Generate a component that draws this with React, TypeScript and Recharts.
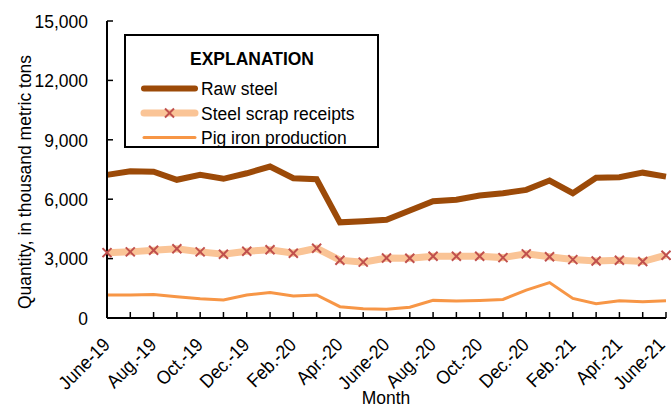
import { LineChart, Line, XAxis, YAxis, Legend } from 'recharts';

const months = [
  'June-19', 'July-19', 'Aug.-19', 'Sept.-19', 'Oct.-19', 'Nov.-19', 'Dec.-19',
  'Jan.-20', 'Feb.-20', 'Mar.-20', 'Apr.-20', 'May-20', 'June-20', 'July-20',
  'Aug.-20', 'Sept.-20', 'Oct.-20', 'Nov.-20', 'Dec.-20', 'Jan.-21', 'Feb.-21',
  'Mar.-21', 'Apr.-21', 'May-21', 'June-21',
];

const rawSteel = [
  7230, 7410, 7390, 6980, 7230, 7030, 7310, 7650, 7060, 7010, 4830, 4890, 4960,
  5430, 5900, 5970, 6190, 6300, 6470, 6940, 6300, 7080, 7110, 7340, 7140,
];

const scrapReceipts = [
  3300, 3340, 3420, 3500, 3340, 3220, 3370, 3450, 3270, 3520, 2920, 2820, 3030,
  3020, 3120, 3120, 3120, 3050, 3240, 3090, 2950, 2880, 2920, 2850, 3170,
];

const pigIron = [
  1160, 1160, 1190, 1070, 970, 910, 1160, 1290, 1110, 1160, 570, 470, 440,
  540, 890, 860, 890, 940, 1410, 1790, 990, 720, 870, 820, 870,
];

const yTicks = [0, 3000, 6000, 9000, 12000, 15000];

const data = months.map((month, i) => ({
  month,
  raw: rawSteel[i],
  scrap: scrapReceipts[i],
  pig: pigIron[i],
}));

const FONT = '"Liberation Sans", Arial, sans-serif';
const FS = 19;
const SX = 0.92; // the original type is slightly condensed

const RAW = '#9C4A08';
const SCRAP = '#FAC496';
const SCRAP_MARK = '#C0504D';
const PIG = '#F79646';

const XMark = (props: any) => {
  const { cx, cy } = props;
  if (cx == null || cy == null) return null;
  const s = 4.5;
  return (
    <g stroke={SCRAP_MARK} strokeWidth={2}>
      <line x1={cx - s} y1={cy - s} x2={cx + s} y2={cy + s} />
      <line x1={cx - s} y1={cy + s} x2={cx + s} y2={cy - s} />
    </g>
  );
};

const NarrowText = ({ x, y, rotate = 0, anchor = 'start', weight, dy, children }: any) => (
  <text
    transform={`translate(${x}, ${y}) rotate(${rotate}) scale(${SX}, 1)`}
    textAnchor={anchor}
    fontFamily={FONT}
    fontSize={FS}
    fontWeight={weight}
    dy={dy}
    fill="#000"
  >
    {children}
  </text>
);

const MonthTick = (props: any) => {
  const { x, payload, index } = props;
  if (index % 2 !== 0) return <g />;
  // keep the last label inside the frame
  return (
    <NarrowText x={Math.min(x + 4, 666)} y={346} rotate={-45} anchor="end">
      {payload.value}
    </NarrowText>
  );
};

const ValueTick = (props: any) => {
  const { y, payload } = props;
  return (
    <NarrowText x={88} y={y} anchor="end" dy="0.36em">
      {Number(payload.value).toLocaleString('en-US')}
    </NarrowText>
  );
};

const legendRows = [
  { label: 'Raw steel', color: RAW, w: 6, mark: false },
  { label: 'Steel scrap receipts', color: SCRAP, w: 7, mark: true },
  { label: 'Pig iron production', color: PIG, w: 3, mark: false },
];

const Explanation = () => (
  <svg width={255} height={114} style={{ display: 'block' }}>
    <rect x={1} y={1} width={253} height={112} fill="#fff" stroke="#000" strokeWidth={2} />
    <NarrowText x={128} y={31} anchor="middle" weight="bold">
      EXPLANATION
    </NarrowText>
    {legendRows.map((r, i) => {
      const cy = 54.5 + i * 24.5;
      return (
        <g key={r.label}>
          <line x1={20} y1={cy} x2={71} y2={cy} stroke={r.color} strokeWidth={r.w} strokeLinecap="round" />
          {r.mark && <XMark cx={45.5} cy={cy} />}
          <NarrowText x={77} y={cy + 6.8}>
            {r.label}
          </NarrowText>
        </g>
      );
    })}
  </svg>
);

export default function App() {
  return (
    <div style={{ position: 'absolute', left: 0, top: 0, width: 671, height: 407, background: '#fff' }}>
      <LineChart
        width={671}
        height={407}
        data={data}
        margin={{ top: 21, right: 5, bottom: 0, left: 0 }}
      >
        <XAxis
          dataKey="month"
          interval={0}
          height={89}
          tick={<MonthTick />}
          tickSize={-6}
          tickLine={{ stroke: '#000', strokeWidth: 1.5 }}
          axisLine={{ stroke: '#000', strokeWidth: 2 }}
          label={{
            content: () => (
              <NarrowText x={386} y={404} anchor="middle">
                Month
              </NarrowText>
            ),
          }}
        />
        <XAxis
          xAxisId="top"
          dataKey="month"
          orientation="top"
          interval={0}
          height={0}
          tick={<g />}
          tickSize={-6}
          tickLine={{ stroke: '#000', strokeWidth: 1.5 }}
          axisLine={{ stroke: '#000', strokeWidth: 2 }}
        />
        <YAxis
          domain={[0, 15000]}
          ticks={yTicks}
          width={107}
          tickSize={-6}
          tick={<ValueTick />}
          tickLine={{ stroke: '#000', strokeWidth: 1.5 }}
          axisLine={{ stroke: '#000', strokeWidth: 2 }}
          label={{
            content: () => (
              <NarrowText x={31} y={182} rotate={-90} anchor="middle">
                Quantity, in thousand metric tons
              </NarrowText>
            ),
          }}
        />
        <YAxis
          yAxisId="right"
          orientation="right"
          domain={[0, 15000]}
          ticks={yTicks}
          width={0}
          tick={<g />}
          tickSize={-6}
          tickLine={{ stroke: '#000', strokeWidth: 1.5 }}
          axisLine={{ stroke: '#000', strokeWidth: 2 }}
        />
        <Legend
          verticalAlign="middle"
          align="center"
          content={() => <Explanation />}
          wrapperStyle={{ position: 'absolute', left: 124, top: 34, width: 255, height: 114 }}
        />
        <Line
          dataKey="pig"
          name="Pig iron production"
          stroke={PIG}
          strokeWidth={3}
          dot={false}
          isAnimationActive={false}
        />
        <Line
          dataKey="scrap"
          name="Steel scrap receipts"
          stroke={SCRAP}
          strokeWidth={7}
          dot={<XMark />}
          isAnimationActive={false}
        />
        <Line
          dataKey="raw"
          name="Raw steel"
          stroke={RAW}
          strokeWidth={6}
          dot={false}
          isAnimationActive={false}
        />
      </LineChart>
    </div>
  );
}
